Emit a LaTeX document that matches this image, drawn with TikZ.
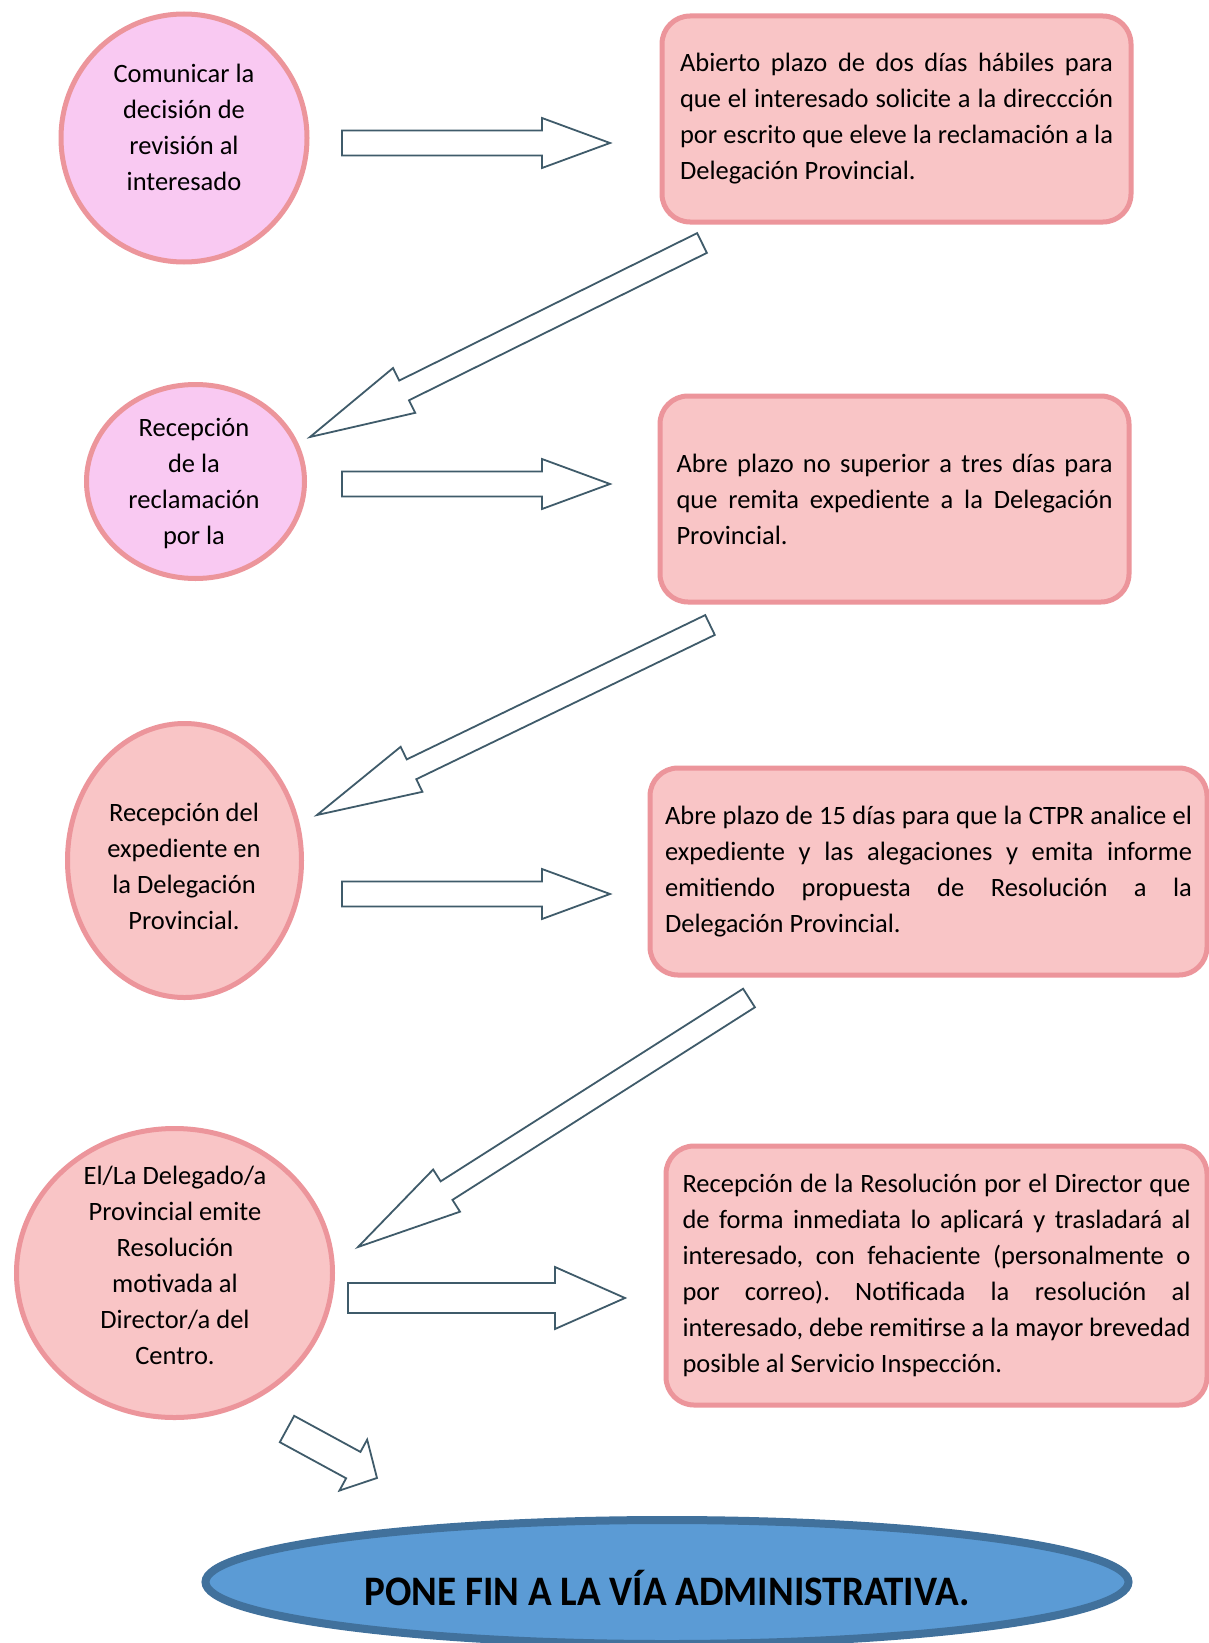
\documentclass[tikz,border=0pt]{standalone}
\usepackage{fontspec}
\setmainfont{Carlito}
\usetikzlibrary{shapes.geometric,calc}
\definecolor{lilafill}{HTML}{F9C9F2}
\definecolor{rosafill}{HTML}{F9C5C6}
\definecolor{rosaline}{HTML}{EC959B}
\definecolor{azulfill}{HTML}{5B9BD5}
\definecolor{azulline}{HTML}{41719C}
\definecolor{flecha}{HTML}{3F5B6A}
\frenchspacing
\tikzset{
  paso/.style={ellipse, draw=rosaline, line width=5pt, fill=rosafill, inner sep=0pt},
  caja/.style={draw=rosaline, line width=5pt, fill=rosafill, rounded corners=28pt, align=justify,
    font=\fontsize{26.5}{36}\selectfont, inner ysep=0pt},
  texto/.style={align=center, font=\fontsize{26.5}{36}\selectfont, inner sep=0pt},
  hueca/.style={draw=flecha, line width=1.8pt, fill=white, line join=miter},
}
\newcommand{\flechahueca}[5]{%
  \coordinate (#1-b) at ($(#2)!#5!(#1)$);
  \draw[hueca] ($(#1)!#3!90:(#2)$) -- ($(#1-b)!#3!-90:(#1)$) -- ($(#1-b)!#4!-90:(#1)$) -- (#2)
    -- ($(#1-b)!#4!90:(#1)$) -- ($(#1-b)!#3!90:(#1)$) -- ($(#1)!#3!-90:(#2)$) -- cycle;
}
\begin{document}
\begin{tikzpicture}[x=1pt,y=-1pt]
\fill[white] (0,0) rectangle (1209,1643);
\useasboundingbox (0,0) rectangle (1209,1643);
\hyphenpenalty=10000

\node[paso, fill=lilafill, minimum width=246pt, minimum height=248pt] (comunicar) at (184,138) {};
\node[texto] (comunicar-t) at (184,127) {Comunicar la\\decisión de\\revisión al\\interesado};
\node[caja, text width=433pt, inner xsep=18pt, minimum height=206pt] (plazo1) at (896.5,119) {Abierto plazo de dos días hábiles para\linebreak que el interesado solicite a la direccción\linebreak por escrito que eleve la reclamación a la\linebreak Delegación Provincial.};

\node[paso, fill=lilafill, minimum width=218pt, minimum height=194pt] (recepcion) at (195.5,481.5) {};
\node[texto] (recepcion-t) at (194,484) {Recepción\\de la\\reclamación\\por la};
\node[caja, text width=436pt, inner xsep=16.5pt, minimum height=206pt] (plazo2) at (894.5,499) {Abre plazo no superior a tres días para\linebreak que remita expediente a la Delegación\linebreak Provincial.};

\node[paso, minimum width=234pt, minimum height=274pt] (expediente) at (184.5,860.5) {};
\node[texto] (expediente-t) at (184,866) {Recepción del\\expediente en\\la Delegación\\Provincial.};
\node[caja, text width=527pt, inner xsep=15pt, minimum height=207pt] (plazo3) at (928.5,871.5) {Abre plazo de 15 días para que la CTPR analice el\linebreak expediente y las alegaciones y emita informe\linebreak emitiendo propuesta de Resolución a la\linebreak Delegación Provincial.};

\node[paso, minimum width=316pt, minimum height=289pt] (delegado) at (174.5,1273) {};
\node[texto] (delegado-t) at (175,1265) {El/La Delegado/a\\Provincial emite\\Resolución\\motivada al\\Director/a del\\Centro.};
\node[caja, text width=508pt, inner xsep=16.5pt, minimum height=259pt] (director) at (936.5,1275.5) {Recepción de la Resolución por el Director que\linebreak de forma inmediata lo aplicará y trasladará al\linebreak interesado, con fehaciente (personalmente o\linebreak por correo). Notificada la resolución al\linebreak interesado, debe remitirse a la mayor brevedad\linebreak posible al Servicio Inspección.};

\node[ellipse, draw=azulline, line width=8pt, fill=azulfill, minimum width=923pt, minimum height=124pt] (fin) at (667,1582) {};
\node[font=\fontsize{42}{44}\selectfont\bfseries] (fin-t) at (667,1588) {\scalebox{0.93}[1]{PONE FIN A LA VÍA ADMINISTRATIVA.}};

\coordinate (f1a) at (342,143);  \coordinate (f1b) at (610,143);
\coordinate (f2a) at (342,484);  \coordinate (f2b) at (610,484);
\coordinate (f3a) at (342,894);  \coordinate (f3b) at (610,894);
\coordinate (f4a) at (348,1298); \coordinate (f4b) at (625,1298);
\coordinate (d1a) at (702,243);  \coordinate (d1b) at (310,437);
\coordinate (d2a) at (710,625);  \coordinate (d2b) at (317,815);
\coordinate (d3a) at (749,998);  \coordinate (d3b) at (358,1247);
\coordinate (fina) at (287,1429); \coordinate (finb) at (377,1478);

\flechahueca{f1a}{f1b}{12.5pt}{25pt}{68pt}
\flechahueca{f2a}{f2b}{12.5pt}{25pt}{68pt}
\flechahueca{f3a}{f3b}{12.5pt}{25pt}{68pt}
\flechahueca{f4a}{f4b}{15pt}{31pt}{70pt}
\flechahueca{d1a}{d1b}{11pt}{25pt}{105pt}
\flechahueca{d2a}{d2b}{11pt}{25pt}{105pt}
\flechahueca{d3a}{d3b}{11pt}{25pt}{105pt}
\flechahueca{fina}{finb}{15pt}{29pt}{27pt}
\end{tikzpicture}
\end{document}
